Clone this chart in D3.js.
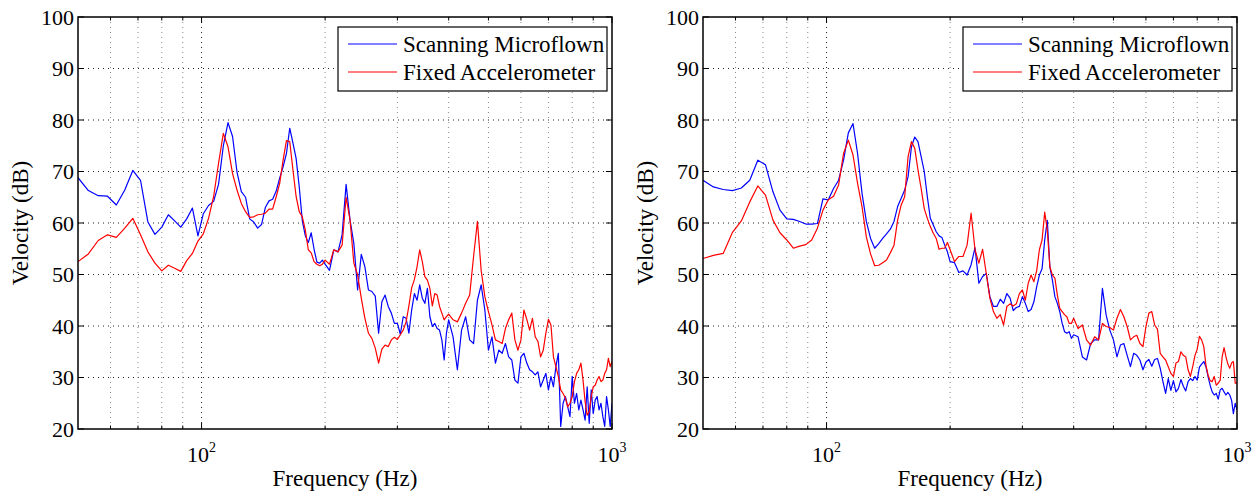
<!DOCTYPE html>
<html>
<head>
<meta charset="utf-8">
<script src="https://cdn.jsdelivr.net/npm/d3@7"></script>
<style>
    body { margin: 0; background: #fff; }
</style>
</head>
<body>
<div id="canvas"></div>
<script>
// frequency bins (Hz), shared by all four curves
const freq = [
    50, 53, 56, 59, 62, 65, 68, 71, 74, 77, 80, 83, 86, 89, 92, 95, 98, 101, 104, 107,
    110, 113, 116, 119, 122, 125, 128, 131, 134, 137, 140, 143, 146, 149, 152, 155, 158, 161, 164, 167,
    170, 173, 176, 179, 182, 185, 188, 191, 194, 197, 200,
    205, 210, 215, 220, 225, 230, 235, 240, 245, 250, 255, 260, 265, 270, 275, 280, 285, 290, 295, 300,
    305, 310, 315, 320, 325, 330, 335, 340, 345, 350, 355, 360, 365, 370, 375, 380, 385, 390, 395, 400,
    410, 420, 430, 440, 450, 460, 470, 480, 490, 500, 510, 520, 530, 540, 550, 560, 570, 580, 590, 600,
    610, 620, 630, 640, 650, 660, 670, 680, 690, 700, 710, 720, 730, 740, 750, 760, 770, 780, 790, 800,
    810, 820, 830, 840, 850, 860, 870, 880, 890, 900, 910, 920, 930, 940, 950, 960, 970, 980, 990, 1000
];

const leftMicroflown = [
    68.8, 66.3, 65.3, 65.2, 63.5, 66.4, 70.2, 68.3, 60.2, 57.8, 59.2, 61.6, 60.4, 59.2, 60.8, 62.9, 57.5, 61.8, 63.4, 64.2,
    67.5, 75, 79.5, 76.8, 69.9, 66.1, 65, 60.8, 60.2, 59, 59.7, 63, 64.3, 64.6, 66.2, 68.7, 70.9, 73.5, 78.4, 75.5,
    72.5, 67, 60.4, 57.5, 56.2, 58.1, 54.9, 52.4, 52.2, 52.8, 52,
    50.8, 54.8, 54.4, 57.7, 67.5, 60.6, 56, 47, 53.9, 51.5, 47, 46.7, 45.8, 38.6, 44.7, 46, 43.8, 42.5, 40.5, 40.5,
    38.4, 41.8, 41.5, 38.6, 43.1, 46.3, 45, 48, 45.4, 44.4, 47.3, 41.8, 39.9, 40.5, 39.5, 39.2, 37.3, 33.4, 38.6, 41.2,
    37.9, 31.5, 39.2, 41.8, 37.3, 36.6, 45, 48, 43.1, 35.3, 37.9, 32.8, 35.3, 34.7, 36.6, 34, 33.4, 29.5, 28.9, 34,
    34.7, 32.8, 31.5, 31.1, 30.5, 31.1, 28.2, 29.5, 30.8, 27.6, 30.2, 28.2, 32.1, 34.7, 20.5, 25, 26.3, 24.3, 22.4, 30.2,
    25, 26.9, 23.7, 25.6, 23.7, 21.7, 28.2, 21.1, 27.6, 23, 25.6, 26.3, 23.7, 25, 22.4, 20.5, 26.3, 23.7, 20.5, 25
];

const leftAccelerometer = [
    52.5, 54, 56.6, 57.7, 57.2, 59, 60.9, 57.7, 54.4, 52.2, 50.7, 51.8, 51.2, 50.6, 52.7, 54.1, 56.5, 57.9, 60.9, 65.1,
    71.6, 77.4, 74.8, 69.6, 66.4, 63.8, 62.2, 61.1, 61.2, 61.6, 61.7, 61.9, 62.7, 62.7, 65.1, 67.7, 72.2, 76, 75.8, 70.3,
    65.1, 62.2, 61.2, 58.6, 54.8, 54.2, 52.5, 52, 51.7, 52, 52.8,
    52, 54.8, 54.4, 55.7, 65, 60.6, 52.2, 49.9, 45.4, 41.5, 38.6, 37.6, 35.7, 32.8, 35.5, 36.3, 36, 37.3, 37.8, 37.4,
    38.3, 39.2, 40.8, 43.9, 47.4, 49, 51.5, 54.8, 52.5, 49.6, 48.9, 47.3, 43.9, 46.3, 46, 43.8, 42.5, 41.2, 41.8, 42.3,
    41.2, 40.8, 42.5, 44.4, 46, 53.5, 60.3, 50.8, 45.7, 42.8, 40.2, 37.3, 37, 36.6, 39.5, 41.2, 42.5, 37.3, 35.3, 37.3,
    43.1, 41.3, 39.2, 41.5, 37.9, 37, 34, 35.3, 38.6, 41.3, 40.2, 34, 32.1, 30.2, 27.6, 26.9, 26, 24.3, 25, 26.3,
    29.2, 30.8, 31.5, 32.8, 29.5, 25.3, 22.7, 23.4, 26.3, 28.2, 28.5, 29.5, 30.2, 29.2, 29.5, 30.8, 31.5, 33.7, 32.1, 33.1
];

const rightMicroflown = [
    68.3, 67, 66.5, 66.3, 66.8, 68.3, 72.2, 71.3, 66.1, 62.5, 60.8, 60.7, 60.3, 59.8, 59.8, 59.9, 64.7, 64.5, 66.7, 68.3,
    72.2, 77.5, 79.3, 73.5, 65.8, 60.3, 57, 55.1, 56, 57, 57.9, 58.8, 60.3, 63.2, 64.8, 66.4, 69, 74.8, 76.7, 75.8,
    72.9, 70, 65.1, 60.9, 59.6, 58.3, 57.5, 57.2, 55.7, 54.4, 52.5,
    52.3, 50.4, 50.7, 49.9, 51.9, 55.2, 48.3, 49.6, 50.2, 45.7, 43.8, 43.8, 45.2, 44.4, 46.3, 45.4, 43, 43.6, 43.8, 45.7,
    44.4, 42.8, 43.2, 44.7, 47.6, 49.9, 51.1, 56.7, 60.5, 51.5, 48.9, 45.7, 44.4, 42.8, 40.5, 38.9, 38.6, 38.9, 37.6, 38.3,
    37.9, 34, 33.4, 36.6, 37.3, 37.3, 47.3, 42.1, 39.2, 37.3, 34, 36.3, 36.6, 34.3, 32.1, 34.7, 34.3, 33.4, 31.5, 33,
    33.5, 32.2, 33.5, 33.7, 31.8, 29.2, 26.9, 29.8, 27.5, 29.4, 27.2, 27.9, 29.6, 28.3, 27.4, 29.2, 29.8, 29.4, 30.2, 29.5,
    32, 32.6, 33.1, 32.1, 30.2, 28.5, 27.2, 26.6, 26.9, 25.8, 27.6, 27.9, 27.2, 26.6, 27.1, 26.6, 25.6, 23, 25, 23.7
];

const rightAccelerometer = [
    53.1, 53.7, 54.1, 58.2, 60.4, 64.1, 67.2, 65.4, 60.6, 58.1, 56.7, 55.1, 55.5, 55.8, 56.7, 59, 62.5, 64.5, 65.2, 67.4,
    73.5, 76.1, 73.2, 67.7, 63.2, 57.3, 54, 51.7, 51.8, 52.3, 52.8, 54.2, 55.7, 60.6, 63.5, 65.1, 72.9, 75.8, 74.5, 70.3,
    66.7, 62.8, 60.9, 59.3, 58, 57, 54.9, 55.1, 55.1, 56.2, 54.8,
    52.5, 53.5, 53.5, 55.7, 61.9, 54.8, 52.2, 54.9, 50.2, 45.4, 42.8, 41.5, 42.2, 40.2, 43.8, 44.3, 43.9, 44.3, 46.3, 47,
    45, 48.3, 49.9, 48.6, 50.7, 54.8, 56.7, 62.1, 58.6, 51.5, 49.9, 49.3, 46, 43.4, 42.8, 42.2, 41.8, 40.5, 40.5, 41.5,
    39.5, 40.2, 37.3, 36.3, 37.9, 37.3, 40.5, 39.9, 39.7, 39.2, 41.5, 43.2, 41.8, 39.9, 37.3, 37.9, 38.2, 36.6, 36, 39.9,
    42.5, 42.8, 40.2, 39.4, 34.7, 34, 33.4, 32.1, 30.8, 30.2, 32.8, 33.1, 35, 34.3, 34, 31.5, 30.2, 32.1, 34.3, 35.5,
    38, 37.3, 36, 32.4, 30.5, 29.4, 29.2, 30.2, 28.5, 28.9, 29.5, 34, 35.8, 34, 32.6, 31.8, 32.8, 33.1, 28.9, 28.9
];

const yTicks = [20, 30, 40, 50, 60, 70, 80, 90, 100];
const decadeTicks = [100, 1000];
const minorFreqs = [60, 70, 80, 90, 200, 300, 400, 500, 600, 700, 800, 900];
const seriesNames = ["Scanning Microflown", "Fixed Accelerometer"];

const seriesColors = ["#0000ff", "#ff0000"];
const panelLeft = [78, 703];
const panelSeries = [[leftMicroflown, leftAccelerometer], [rightMicroflown, rightAccelerometer]];

const plotWidth = 534;
const plotTop = 17;
const plotBottom = 429;
const serif = '"Liberation Serif", "DejaVu Serif", "Times New Roman", serif';

const svg = d3.select('#canvas').append('svg')
    .attr('width', 1258)
    .attr('height', 492)
    .attr('font-family', serif)
    .style('font-family', serif);

panelLeft.forEach(function (left, p) {
    const x = d3.scaleLog().domain([50, 1000]).range([left, left + plotWidth]);
    const y = d3.scaleLinear().domain([20, 100]).range([plotBottom, plotTop]);
    const g = svg.append('g');

    // dotted grid
    g.append('g').selectAll('line')
        .data(yTicks.slice(1, -1))
        .enter().append('line')
        .attr('x1', x(50)).attr('x2', x(1000))
        .attr('y1', d => y(d)).attr('y2', d => y(d))
        .attr('stroke', '#222').attr('stroke-width', 1)
        .attr('stroke-dasharray', '1,4');

    g.append('g').selectAll('line')
        .data(minorFreqs)
        .enter().append('line')
        .attr('x1', d => x(d)).attr('x2', d => x(d))
        .attr('y1', plotTop).attr('y2', plotBottom)
        .attr('stroke', '#888').attr('stroke-width', 1)
        .attr('stroke-dasharray', '1,4');

    g.append('line')
        .attr('x1', x(100)).attr('x2', x(100))
        .attr('y1', plotTop).attr('y2', plotBottom)
        .attr('stroke', '#222').attr('stroke-width', 1)
        .attr('stroke-dasharray', '1,4');

    // curves
    const clipId = 'clip' + p;
    svg.append('clipPath').attr('id', clipId)
        .append('rect')
        .attr('x', left).attr('y', plotTop)
        .attr('width', plotWidth).attr('height', plotBottom - plotTop);

    const line = d3.line()
        .x((d, j) => x(freq[j]))
        .y(d => y(d));

    g.append('g').attr('clip-path', 'url(#' + clipId + ')')
        .selectAll('path')
        .data(panelSeries[p])
        .enter().append('path')
        .attr('d', line)
        .attr('fill', 'none')
        .attr('stroke', (d, k) => seriesColors[k])
        .attr('stroke-width', 1.2)
        .attr('stroke-linejoin', 'round');

    // box
    g.append('rect')
        .attr('x', left).attr('y', plotTop)
        .attr('width', plotWidth).attr('height', plotBottom - plotTop)
        .attr('fill', 'none').attr('stroke', '#000').attr('stroke-width', 1.5);

    // ticks, all pointing in
    yTicks.forEach(function (t) {
        g.append('line').attr('x1', left).attr('x2', left + 6)
            .attr('y1', y(t)).attr('y2', y(t)).attr('stroke', '#000');
        g.append('line').attr('x1', left + plotWidth - 6).attr('x2', left + plotWidth)
            .attr('y1', y(t)).attr('y2', y(t)).attr('stroke', '#000');
    });
    minorFreqs.concat(decadeTicks).forEach(function (f) {
        const len = decadeTicks.indexOf(f) >= 0 ? 6 : 3.5;
        g.append('line').attr('x1', x(f)).attr('x2', x(f))
            .attr('y1', plotBottom).attr('y2', plotBottom - len).attr('stroke', '#000');
        g.append('line').attr('x1', x(f)).attr('x2', x(f))
            .attr('y1', plotTop).attr('y2', plotTop + len).attr('stroke', '#000');
    });

    // tick labels
    g.append('g').selectAll('text')
        .data(yTicks)
        .enter().append('text')
        .attr('x', left - 4)
        .attr('y', d => y(d))
        .attr('dy', '0.35em')
        .attr('text-anchor', 'end')
        .style('font-family', serif)
        .style('font-size', '22px')
        .text(d => d);

    decadeTicks.forEach(function (f) {
        const label = g.append('text')
            .attr('x', x(f))
            .attr('y', 462)
            .attr('text-anchor', 'middle')
            .style('font-family', serif)
            .style('font-size', '22px');
        label.append('tspan').text('10');
        label.append('tspan')
            .attr('dy', -10)
            .style('font-size', '14px')
            .text(Math.round(Math.log10(f)));
    });

    // axis titles
    g.append('text')
        .attr('x', left + plotWidth / 2)
        .attr('y', 486)
        .attr('text-anchor', 'middle')
        .style('font-family', serif)
        .style('font-size', '23px')
        .text('Frequency (Hz)');

    g.append('text')
        .attr('transform', 'translate(' + (left - 50) + ',' + (plotTop + plotBottom) / 2 + ') rotate(-90)')
        .attr('text-anchor', 'middle')
        .style('font-family', serif)
        .style('font-size', '23px')
        .text('Velocity (dB)');

    // legend
    const legend = g.append('g').attr('transform', 'translate(' + (left + 260) + ',27)');
    legend.append('rect')
        .attr('width', 269).attr('height', 64)
        .attr('fill', '#fff').attr('stroke', '#000').attr('stroke-width', 1.2);
    seriesNames.forEach(function (name, k) {
        const rowY = 17 + k * 28;
        legend.append('line')
            .attr('x1', 10).attr('x2', 59)
            .attr('y1', rowY).attr('y2', rowY)
            .attr('stroke', seriesColors[k]).attr('stroke-width', 1.2);
        legend.append('text')
            .attr('x', 65).attr('y', rowY)
            .attr('dy', '0.35em')
            .style('font-family', serif)
            .style('font-size', '23px')
            .text(name);
    });
});
</script>
</body>
</html>
